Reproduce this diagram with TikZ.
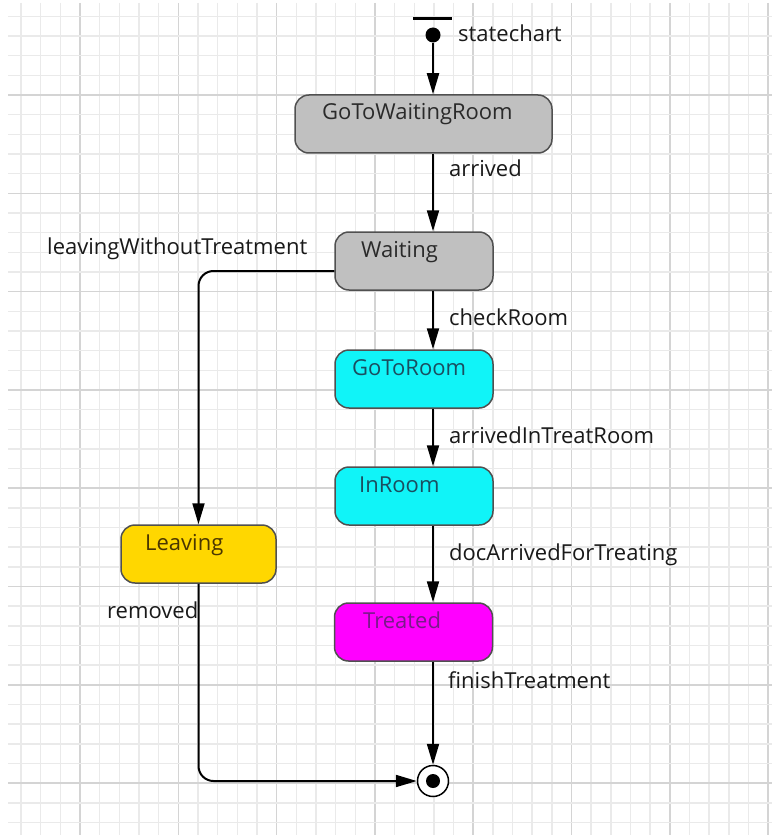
\documentclass[tikz,border=0pt]{standalone}
\usepackage{fontspec}
\setmainfont{Open Sans}
\usetikzlibrary{arrows.meta}
\definecolor{gridminor}{HTML}{EAEAEA}
\definecolor{gridmajor}{HTML}{D4D4D4}
\definecolor{stgray}{HTML}{C0C0C0}
\definecolor{stcyan}{HTML}{10F4F8}
\definecolor{styellow}{HTML}{FFD700}
\definecolor{stmagenta}{HTML}{FF00FF}
\definecolor{stborder}{HTML}{505050}
\definecolor{txgray}{HTML}{2A2A2A}
\definecolor{txcyan}{HTML}{1A4E60}
\definecolor{txyellow}{HTML}{4A3600}
\definecolor{txmagenta}{HTML}{7A1A8A}
\begin{document}
\begin{tikzpicture}[x=1pt,y=-1pt,
  font=\fontsize{22}{26}\selectfont,
  stbox/.style={draw=stborder, line width=1.5pt, rounded corners=14pt,
    minimum height=58pt, minimum width=158pt, inner sep=0pt},
  stname/.style={anchor=base west, inner sep=0pt},
  trlabel/.style={anchor=base west, inner sep=0pt, text=black!90},
  tr/.style={draw=black, line width=2pt, -{Triangle[length=21pt,width=12pt]}},
]
\useasboundingbox (0,0) rectangle (772,837);
\fill[white] (0,0) rectangle (772,837);

% background grid: minor lines, with every fifth line darker
\foreach \i in {1,...,39} {
  \pgfmathsetmacro\gx{1.4+19.66*\i}
  \pgfmathtruncatemacro\m{mod(\i,5)}
  \ifnum\m=4 \def\gc{gridmajor}\else\def\gc{gridminor}\fi
  \draw[\gc, line width=1.5pt] (\gx,3) -- (\gx,835);
}
\foreach \j in {1,...,42} {
  \pgfmathsetmacro\gy{-3.26+19.66*\j}
  \pgfmathtruncatemacro\m{mod(\j,5)}
  \ifnum\m=0 \def\gc{gridmajor}\else\def\gc{gridminor}\fi
  \draw[\gc, line width=1.5pt] (8,\gy) -- (772,\gy);
}

% initial pseudo-state
\node[fill=black, inner sep=0pt, minimum width=39pt, minimum height=3pt] (initbar) at (432.5,19) {};
\node[fill=black, circle, inner sep=0pt, minimum size=15pt] (init) at (433,35) {};
\node[trlabel] (lstatechart) at (458,42) {statechart};

% states
\node[stbox, fill=stgray, minimum width=257pt] (gtwr) at (423.5,124) {};
\node[stname, text=txgray] (gtwrname) at (322,120) {GoToWaitingRoom};

\node[stbox, fill=stgray] (waiting) at (414,261) {};
\node[stname, text=txgray] (waitingname) at (361,257) {Waiting};

\node[stbox, fill=stcyan] (gotoroom) at (414,379) {};
\node[stname, text=txcyan] (gotoroomname) at (352,375) {GoToRoom};

\node[stbox, fill=stcyan] (inroom) at (414,496) {};
\node[stname, text=txcyan] (inroomname) at (359,492) {InRoom};

\node[stbox, fill=stmagenta] (treated) at (413.5,632) {};
\node[stname, text=txmagenta] (treatedname) at (363,628) {Treated};

\node[stbox, fill=styellow, minimum width=155pt] (leaving) at (198.5,554) {};
\node[stname, text=txyellow] (leavingname) at (145,550) {Leaving};

% final state
\node[circle, draw=black, line width=1.5pt, fill=white, minimum size=31pt, inner sep=0pt] (fin) at (433,781) {};
\node[circle, fill=black, minimum size=14pt, inner sep=0pt] (findot) at (fin) {};

% transitions
\draw[tr] (init) -- (init |- gtwr.north);
\draw[tr] (init |- gtwr.south) -- (init |- waiting.north);
\draw[tr] (init |- waiting.south) -- (init |- gotoroom.north);
\draw[tr] (init |- gotoroom.south) -- (init |- inroom.north);
\draw[tr] (init |- inroom.south) -- (init |- treated.north);
\draw[tr] (init |- treated.south) -- (fin.north);
\draw[tr, rounded corners=15pt] ([yshift=-10pt]waiting.west) -| (leaving.north);
\draw[tr, rounded corners=15pt] (leaving.south) |- (fin.west);

% transition labels
\node[trlabel] (larrived) at (449,177) {arrived};
\node[trlabel] (lleave) at (47,254) {leavingWithoutTreatment};
\node[trlabel] (lcheck) at (449,325) {checkRoom};
\node[trlabel] (larrtreat) at (449,443) {arrivedInTreatRoom};
\node[trlabel] (ldoc) at (449,560) {docArrivedForTreating};
\node[trlabel] (lfinish) at (448,688) {finishTreatment};
\node[trlabel] (lremoved) at (107,618) {removed};
\end{tikzpicture}
\end{document}
